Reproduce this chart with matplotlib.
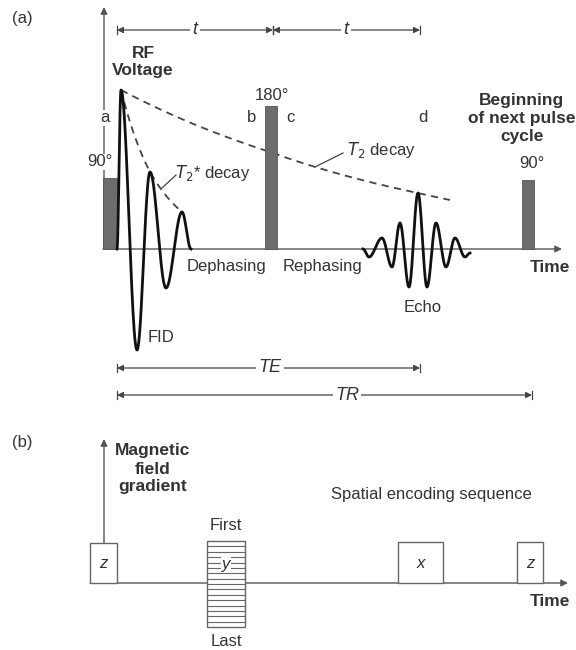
import matplotlib
matplotlib.use('Agg')
import matplotlib.pyplot as plt
import numpy as np

plt.rcParams['font.family'] = ['Liberation Sans', 'DejaVu Sans']

# ---- data (pixel-like units, y grows downwards) ----
base_a = 249          # time axis of panel (a)
base_b = 583          # time axis of panel (b)

pulse_x = [110, 271, 528]
pulse_h = [71, 143, 69]
pulse_w = [14, 12, 12]
pulse_labels = ['90°', '180°', '90°']

# FID extrema (x, amplitude above baseline)
fid_x = [117, 121, 137, 150, 166, 182, 191]
fid_amp = [0, 159, -101, 77, -39, 37, 0]

# echo extrema
echo_x = [363, 369, 382, 392, 400, 409, 418, 427, 436, 446, 455, 465, 470]
echo_amp = [0, -8, 11, -18, 26, -38, 56, -38, 26, -18, 11, -8, -4]

# decay envelopes
t2_x = [121, 270, 418, 450]
t2_amp = [159, 97, 56, 49]
t2s_x = [121, 150, 182]
t2s_amp = [159, 77, 37]

# gradient boxes of panel (b)
grad_labels = ['z', 'y', 'x', 'z']
grad_left = [90, 207, 398, 517]
grad_right = [117, 245, 443, 543]
grad_top = [543, 541, 542, 542]
grad_bottom = [583, 627, 583, 583]

txt = '#333333'
ln = '#555555'
fs = 12
fsb = 12.5


def wave(xs, amps, n=40):
    xx, yy = [], []
    for i in range(len(xs) - 1):
        s = np.linspace(0, 1, n)
        xx.append(xs[i] + (xs[i + 1] - xs[i]) * s)
        yy.append(amps[i] + (amps[i + 1] - amps[i]) * (1 - np.cos(np.pi * s)) / 2)
    return np.concatenate(xx), np.concatenate(yy)


def envelope(xs, amps):
    xx = np.linspace(xs[0], xs[-1], 200)
    yy = np.exp(np.interp(xx, xs, np.log(amps)))
    return xx, yy


def dim_arrow(ax, x0, x1, y, label=None, lx=None):
    ax.annotate('', xy=(x0, y), xytext=(x1, y),
                arrowprops=dict(arrowstyle='<|-|>', color='#444444', lw=0.9,
                                shrinkA=0, shrinkB=0, mutation_scale=9))
    for xe in (x0, x1):
        ax.plot([xe, xe], [y - 4, y + 4], color='#444444', lw=0.9)
    if label:
        ax.text(lx, y, label, ha='center', va='center', fontsize=13, color=txt,
                style='italic',
                bbox=dict(facecolor='white', edgecolor='none', pad=1.5))


fig = plt.figure(figsize=(5.76, 6.5), dpi=100)
ax = fig.add_axes([0, 0, 1, 1])
ax.set_xlim(0, 576)
ax.set_ylim(650, 0)
ax.axis('off')

# ---------------- panel (a) ----------------
ax.text(12, 18, '(a)', fontsize=12, color=txt, va='center')
ax.annotate('', xy=(104, 7), xytext=(104, base_a),
            arrowprops=dict(arrowstyle='-|>', color=ln, lw=1.0, shrinkA=0, shrinkB=0,
                            mutation_scale=10))
ax.annotate('', xy=(562, base_a), xytext=(103, base_a),
            arrowprops=dict(arrowstyle='-|>', color=ln, lw=1.0, shrinkA=0, shrinkB=0,
                            mutation_scale=10))

ax.bar(pulse_x, [-h for h in pulse_h], width=pulse_w, bottom=base_a,
       color='#6d6d6d', edgecolor='#555555', lw=0.6, zorder=3)
ax.text(100, 162, pulse_labels[0], ha='center', va='center', fontsize=fs, color=txt,
        bbox=dict(facecolor='white', edgecolor='none', pad=0.5))
ax.text(272, 95, pulse_labels[1], ha='center', va='center', fontsize=fs, color=txt)
ax.text(532, 163, pulse_labels[2], ha='center', va='center', fontsize=fs, color=txt)

for lab, lx in zip(['a', 'b', 'c', 'd'], [105, 252, 290, 423]):
    ax.text(lx, 118, lab, ha='center', va='center', fontsize=fs, color=txt,
            bbox=dict(facecolor='white', edgecolor='none', pad=0.5))

ax.text(143, 62, 'RF\nVoltage', ha='center', va='center', fontsize=fsb,
        fontweight='bold', color=txt, linespacing=1.25)
ax.text(522, 118, 'Beginning\nof next pulse\ncycle', ha='center', va='center',
        fontsize=fsb, fontweight='bold', color=txt, linespacing=1.25)

# envelopes
ex, ey = envelope(t2_x, t2_amp)
ax.plot(ex, base_a - ey, color='#444444', lw=1.3, dashes=(4, 3), zorder=2)
ex, ey = envelope(t2s_x, t2s_amp)
ax.plot(ex, base_a - ey, color='#444444', lw=1.3, dashes=(4, 3), zorder=2)

# signals
wx, wy = wave(fid_x, fid_amp)
ax.plot(wx, base_a - wy, color='#111111', lw=2.0, zorder=4)
wx, wy = wave(echo_x, echo_amp)
ax.plot(wx, base_a - wy, color='#111111', lw=2.0, zorder=4)

# decay labels with leaders
ax.plot([162, 176], [188, 175], color='#444444', lw=0.9)
ax.text(175, 173, r'$T_2$* decay', ha='left', va='center', fontsize=fs, color=txt)
ax.plot([315, 343], [167, 153], color='#444444', lw=0.9)
ax.text(347, 150, r'$T_2$ decay', ha='left', va='center', fontsize=fs, color=txt)

ax.text(227, 267, 'Dephasing', ha='center', va='center', fontsize=fs, color=txt)
ax.text(323, 267, 'Rephasing', ha='center', va='center', fontsize=fs, color=txt)
ax.text(161, 337, 'FID', ha='center', va='center', fontsize=fs, color=txt)
ax.text(423, 307, 'Echo', ha='center', va='center', fontsize=fs, color=txt)
ax.text(550, 268, 'Time', ha='center', va='center', fontsize=fsb,
        fontweight='bold', color=txt)

dim_arrow(ax, 117, 273, 30, 't', 195)
dim_arrow(ax, 273, 420, 30, 't', 346)
dim_arrow(ax, 117, 420, 368, 'TE', 270)
dim_arrow(ax, 117, 532, 395, 'TR', 347)

# ---------------- panel (b) ----------------
ax.text(12, 443, '(b)', fontsize=12, color=txt, va='center')
ax.annotate('', xy=(104, 439), xytext=(104, grad_top[0]),
            arrowprops=dict(arrowstyle='-|>', color=ln, lw=1.0, shrinkA=0, shrinkB=0,
                            mutation_scale=10))
ax.annotate('', xy=(568, base_b), xytext=(90, base_b),
            arrowprops=dict(arrowstyle='-|>', color=ln, lw=1.0, shrinkA=0, shrinkB=0,
                            mutation_scale=10))

for lab, l, r, t, b in zip(grad_labels, grad_left, grad_right, grad_top, grad_bottom):
    ax.bar((l + r) / 2, b - t, width=r - l, bottom=t, color='white',
           edgecolor='#666666', lw=1.0, zorder=3)
    if lab == 'y':
        for yy in np.linspace(t, b, 17)[1:-1]:
            ax.plot([l, r], [yy, yy], color='#666666', lw=0.8, zorder=4)
        ax.text((l + r) / 2, 565, lab, ha='center', va='center', fontsize=fs,
                style='italic', color=txt, zorder=5,
                bbox=dict(facecolor='white', edgecolor='none', pad=0.5))
    else:
        ax.text((l + r) / 2, 563, lab, ha='center', va='center', fontsize=fs,
                style='italic', color=txt, zorder=5)

ax.text(226, 525, 'First', ha='center', va='center', fontsize=fs, color=txt)
ax.text(226, 642, 'Last', ha='center', va='center', fontsize=fs, color=txt)
ax.text(153, 469, 'Magnetic\nfield\ngradient', ha='center', va='center', fontsize=fsb,
        fontweight='bold', color=txt, linespacing=1.25)
ax.text(431, 495, 'Spatial encoding sequence', ha='center', va='center',
        fontsize=fs, color=txt)
ax.text(550, 602, 'Time', ha='center', va='center', fontsize=fsb,
        fontweight='bold', color=txt)

fig.savefig('out.png', dpi=100)
